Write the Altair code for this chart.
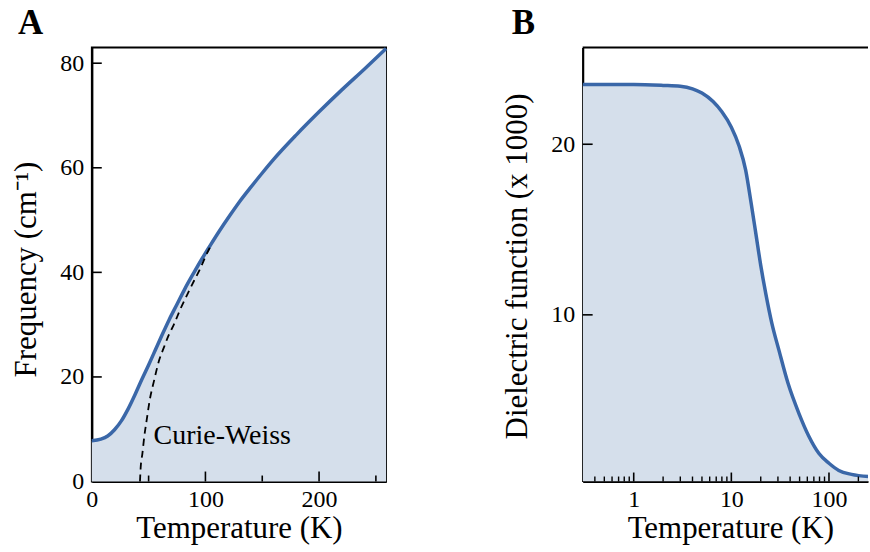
import altair as alt
import pandas as pd

# ---------------- data ----------------
# Panel A: soft-mode frequency vs temperature
a_temp = [0, 8, 14, 20, 26, 32, 38, 44, 50, 56, 62, 68, 75, 82, 90, 97, 104.4,
          112, 121.9, 130, 138.9, 150, 160, 180, 200, 220, 240, 259]
a_freq = [7.8, 8.1, 8.7, 9.9, 11.6, 13.9, 16.6, 19.5, 22.3, 25.2, 28.1, 30.9, 33.9,
          36.9, 40.0, 42.6, 45.2, 47.8, 51.0, 53.5, 56.0, 59.0, 61.6, 66.3, 70.7,
          74.9, 78.9, 82.8]
# Curie-Weiss (dashed)
cw_temp = [42.4, 43, 44.5, 46.2, 48.2, 51, 54.7, 59, 63.4, 67.5, 72.2, 78, 83.9,
           90, 95.6, 100, 104.5]
cw_freq = [0, 2.6, 5.3, 8.6, 11.6, 15.6, 19.2, 23.0, 25.6, 27.9, 30.0, 33.0, 35.7,
           38.4, 40.8, 43.0, 45.0]
cw_label = ["Curie-Weiss"]
cw_label_t = [54.4]
cw_label_f = [7.2]

# Panel B: dielectric function (x 1000) vs temperature (log)
b_temp = [0.3, 1, 2, 3, 4, 5, 6.5, 8, 10, 12, 14, 16, 18, 20, 22.6, 26, 30.8, 38,
          49.4, 62, 79, 100, 126, 170, 254]
b_eps = [23.5, 23.5, 23.45, 23.4, 23.25, 23.0, 22.5, 21.9, 21.0, 19.9, 18.5, 16.5,
         14.6, 12.9, 11.2, 9.5, 7.9, 6.0, 4.2, 2.9, 1.87, 1.3, 0.88, 0.65, 0.52]

# axis tick values
a_x_labels = [0, 100, 200]
a_x_major = [100, 200]
a_x_minor = [50, 150, 250]
a_y_ticks = [0, 20, 40, 60, 80]
b_x_labels = [1, 10, 100]
b_x_major = [1, 10, 100]
b_x_minor = [0.4, 0.5, 0.6, 0.7, 0.8, 0.9, 2, 3, 4, 5, 6, 7, 8, 9,
             20, 30, 40, 50, 60, 70, 80, 90, 200]
b_y_ticks = [10, 20]

# ---------------- styling ----------------
FONT = "Liberation Serif"
LINE = "#3a67a8"
FILL = "#d5dfeb"
A_W, A_H = 295, 435
B_W, B_H = 286, 435
LEFT, TOP = 91, 46

dfA = pd.DataFrame({"T": a_temp, "f": a_freq})
dfCW = pd.DataFrame({"T": cw_temp, "f": cw_freq})
dfLab = pd.DataFrame({"T": cw_label_t, "f": cw_label_f, "label": cw_label})
dfB = pd.DataFrame({"T": b_temp, "e": b_eps})

axis_common = dict(
    ticks=False, tickSize=0, grid=False, domainColor="black", domainWidth=2.2,
    labelFont=FONT, labelFontSize=24, labelColor="black", labelFlush=False,
    titleFont=FONT, titleFontSize=31, titleFontWeight="normal", titleColor="black",
)

xA = alt.X("T:Q", scale=alt.Scale(domain=[0, 259], nice=False, zero=False),
           axis=alt.Axis(values=a_x_labels, labelPadding=6, title="Temperature (K)",
                         titleX=A_W / 2, titleY=56, titleBaseline="alphabetic",
                         titleAlign="center", **axis_common))
yA = alt.Y("f:Q", scale=alt.Scale(domain=[0, 83], nice=False),
           axis=alt.Axis(values=a_y_ticks, labelPadding=8, title="Frequency (cm⁻¹)",
                         titleAngle=270, titleX=-56, titleY=222, titleAlign="center",
                         titleBaseline="alphabetic", **axis_common))

areaA = alt.Chart(dfA).mark_area(color=FILL, interpolate="monotone").encode(x=xA, y=yA)
lineA = alt.Chart(dfA).mark_line(color=LINE, strokeWidth=3.5, interpolate="monotone").encode(x=xA, y=yA)
cwA = alt.Chart(dfCW).mark_line(color="black", strokeWidth=1.8, strokeDash=[7, 5],
                                interpolate="monotone").encode(x=xA, y=yA)
textA = alt.Chart(dfLab).mark_text(font=FONT, fontSize=28, align="left", baseline="alphabetic",
                                   color="black").encode(x=xA, y=yA, text="label:N")
tA_maj = alt.Chart(pd.DataFrame({"T": a_x_major})).mark_rule(color="black", strokeWidth=1.6).encode(
    x=xA, y=alt.value(A_H), y2=alt.value(A_H - 10))
tA_min = alt.Chart(pd.DataFrame({"T": a_x_minor})).mark_rule(color="black", strokeWidth=1.6).encode(
    x=xA, y=alt.value(A_H), y2=alt.value(A_H - 6))
tA_y = alt.Chart(pd.DataFrame({"f": a_y_ticks[1:]})).mark_rule(color="black", strokeWidth=1.6).encode(
    y=yA, x=alt.value(0), x2=alt.value(10))
# invisible anchor fixing the top-left corner of the whole picture
anchor = alt.Chart(pd.DataFrame({"f": [0]})).mark_rule(strokeOpacity=0, strokeWidth=0).encode(
    x=alt.value(-LEFT), x2=alt.value(-LEFT + 1), y=alt.value(-TOP), y2=alt.value(-TOP + 1))

chartA = alt.layer(areaA, lineA, cwA, textA, tA_maj, tA_min, tA_y, anchor).properties(
    width=A_W, height=A_H,
    title=alt.TitleParams("A", anchor="start", frame="group", font=FONT, fontSize=35,
                          fontWeight="bold", color="black", dx=-74, dy=80, offset=13,
                          baseline="alphabetic"),
)

xB = alt.X("T:Q", scale=alt.Scale(type="log", domain=[0.3, 251], nice=False),
           axis=alt.Axis(values=b_x_labels, format="d", labelPadding=6, title="Temperature (K)",
                         titleX=148, titleY=56, titleBaseline="alphabetic", titleAlign="center",
                         **axis_common))
yB = alt.Y("e:Q", scale=alt.Scale(domain=[0.23, 25.67], nice=False, zero=False),
           axis=alt.Axis(values=b_y_ticks, labelPadding=8, title="Dielectric function (x 1000)",
                         titleAngle=270, titleX=-56, titleY=219, titleAlign="center",
                         titleBaseline="alphabetic", **axis_common))

areaB = alt.Chart(dfB).mark_area(color=FILL, interpolate="monotone", clip=True).encode(
    x=xB, y=yB, y2=alt.datum(0.23))
lineB = alt.Chart(dfB).mark_line(color=LINE, strokeWidth=3.5, interpolate="monotone",
                                 clip=True).encode(x=xB, y=yB)
tB_maj = alt.Chart(pd.DataFrame({"T": b_x_major})).mark_rule(color="black", strokeWidth=1.6).encode(
    x=xB, y=alt.value(B_H), y2=alt.value(B_H - 9))
tB_min = alt.Chart(pd.DataFrame({"T": b_x_minor})).mark_rule(color="black", strokeWidth=1.4).encode(
    x=xB, y=alt.value(B_H), y2=alt.value(B_H - 5))
tB_y = alt.Chart(pd.DataFrame({"e": b_y_ticks})).mark_rule(color="black", strokeWidth=1.6).encode(
    y=yB, x=alt.value(0), x2=alt.value(10))
topB = alt.Chart(pd.DataFrame({"e": [1]})).mark_rule(color="black", strokeWidth=2).encode(
    x=alt.value(0), x2=alt.value(B_W), y=alt.value(0))

chartB = alt.layer(areaB, lineB, tB_maj, tB_min, tB_y, topB).properties(
    width=B_W, height=B_H,
    view=alt.ViewBackground(stroke="transparent"),
    title=alt.TitleParams("B", anchor="start", frame="group", font=FONT, fontSize=35,
                          fontWeight="bold", color="black", dx=-71, dy=35, offset=13,
                          baseline="alphabetic"),
)

chart = alt.hconcat(chartA, chartB, spacing=197, bounds="flush").properties(
    padding=0,
    background="white",
).configure_view(stroke="black", strokeWidth=1.8)

chart.save("out.html", embed_options={"renderer": "svg", "actions": False})
